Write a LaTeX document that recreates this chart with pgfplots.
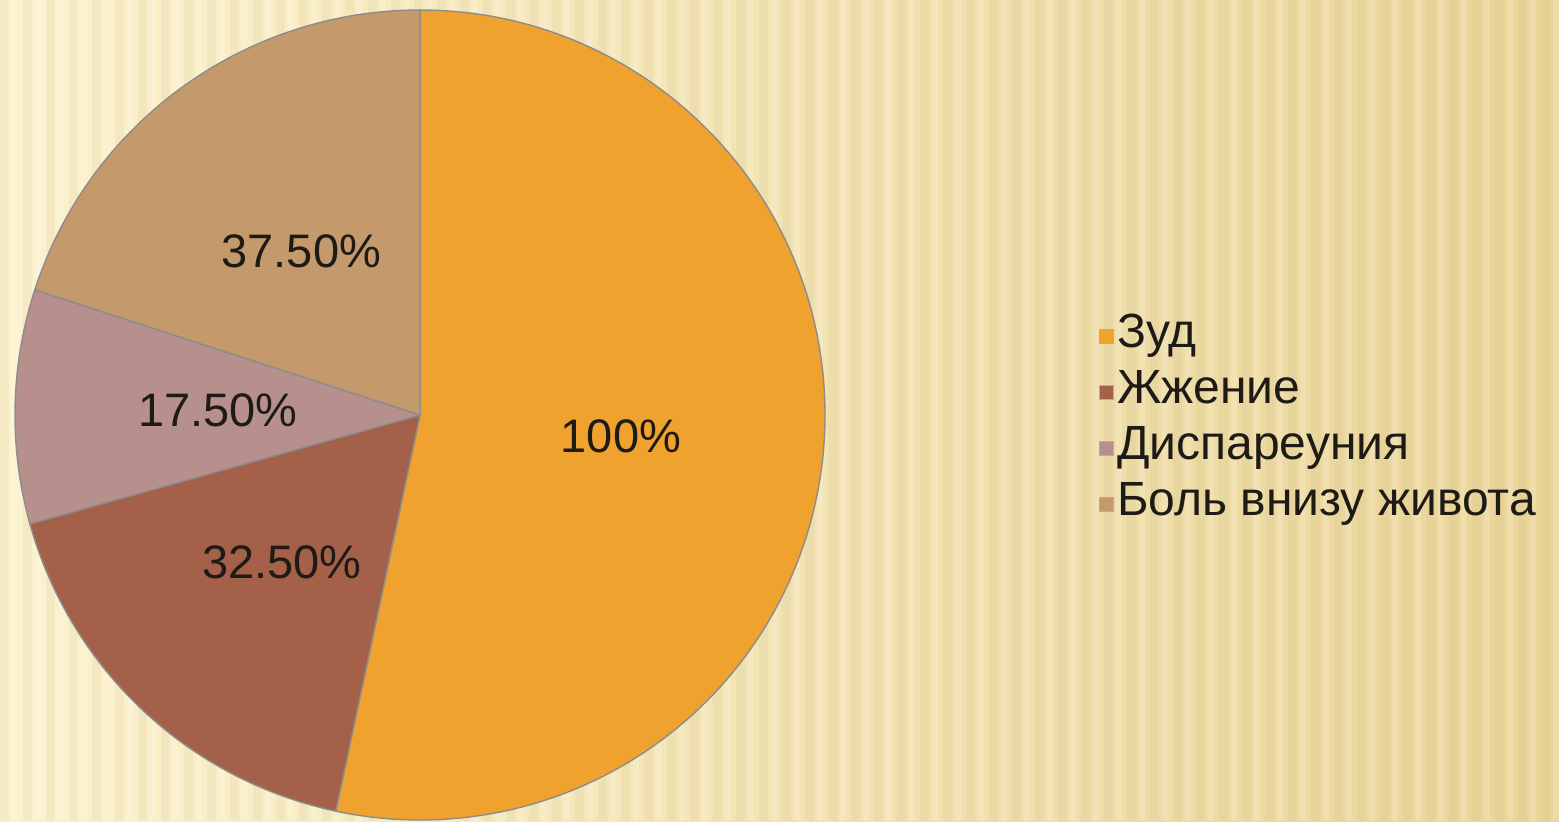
\documentclass[border=0pt]{standalone}
\usepackage{pgfplots}
\pgfplotsset{compat=1.18}
\usepackage{pgfplotstable}
\usepackage{fontspec}
\setmainfont{Liberation Sans}

\definecolor{czud}{HTML}{F0A22E}
\definecolor{czh}{HTML}{A5604A}
\definecolor{cdis}{HTML}{B7908E}
\definecolor{cbol}{HTML}{C49A6C}
\definecolor{bgl}{HTML}{FCF2CE}
\definecolor{bgr}{HTML}{EAD598}
\definecolor{edge}{HTML}{8C8C8C}
\definecolor{txt}{HTML}{1E1A16}

% symptom, share of patients (%), label, colour
\pgfplotstableread[col sep=comma]{
name,value,lab,color
Зуд,100,100,czud
Жжение,32.5,32.50,czh
Диспареуния,17.5,17.50,cdis
Боль внизу живота,37.5,37.50,cbol
}\pietable

\begin{document}
\begin{tikzpicture}
\def\total{0}
\pgfplotsforeachungrouped \i in {0,...,3}{%
  \pgfplotstablegetelem{\i}{value}\of\pietable
  \pgfmathsetmacro\total{\total+\pgfplotsretval}%
}
\begin{axis}[
    x=0.5pt, y=0.5pt,
    xmin=0, xmax=1559, ymin=0, ymax=821,
    hide axis, clip=false,
    legend style={at={(axis cs:1099,513)}, anchor=north west,
        draw=none, fill=none, inner sep=0pt,
        font=\fontsize{24}{28}\selectfont, text=txt,
        nodes={inner sep=1.5pt, text height=18pt, text depth=7pt}},
    legend cell align=left,
    legend image code/.code={%
        \filldraw[#1, draw=edge!70, line width=0.4pt] (0pt,-3.5pt) rectangle (7pt,3.5pt);},
]
\coordinate (bl) at (axis cs:0,0);
\coordinate (tr) at (axis cs:1559,821);
% background
\shade[left color=bgl, right color=bgr] (axis cs:0,0) rectangle (axis cs:1559,821);
\pgfplotsinvokeforeach{0,23,...,1540}{
  \fill[bgr!80!black, opacity=0.10] (axis cs:#1,0) rectangle (axis cs:#1+9,821);
  \fill[white, opacity=0.18] (axis cs:#1+12,0) rectangle (axis cs:#1+18,821);
}

\def\cum{0}
\pgfplotsforeachungrouped \i in {0,...,3}{%
  \pgfplotstablegetelem{\i}{value}\of\pietable \let\v\pgfplotsretval
  \pgfplotstablegetelem{\i}{color}\of\pietable \let\c\pgfplotsretval
  \pgfplotstablegetelem{\i}{lab}\of\pietable \let\l\pgfplotsretval
  \pgfplotstablegetelem{\i}{name}\of\pietable \let\n\pgfplotsretval
  \pgfmathsetmacro\a{90-360*(\cum/\total)}%
  \pgfmathsetmacro\b{90-360*((\cum+\v)/\total)}%
  \pgfmathsetmacro\m{(\a+\b)/2}%
  \pgfmathsetmacro\cum{\cum+\v}%
  \edef\temp{%
    \noexpand\filldraw[fill=\c, draw=edge, line width=0.7pt]
      (axis cs:420,406) -- ++(\a:202.5pt)
      arc[start angle=\a, end angle=\b, radius=202.5pt] -- cycle;
    \noexpand\path (axis cs:420,406) ++(\m:101pt)
      node[font=\noexpand\fontsize{23.5}{27}\noexpand\selectfont, text=txt] {\l\noexpand\%};
    \noexpand\addlegendimage{fill=\c}
    \noexpand\addlegendentry{\n}
  }%
  \temp
}
\end{axis}
\pgfresetboundingbox
\path[use as bounding box] (bl) rectangle (tr);
\end{tikzpicture}
\end{document}
